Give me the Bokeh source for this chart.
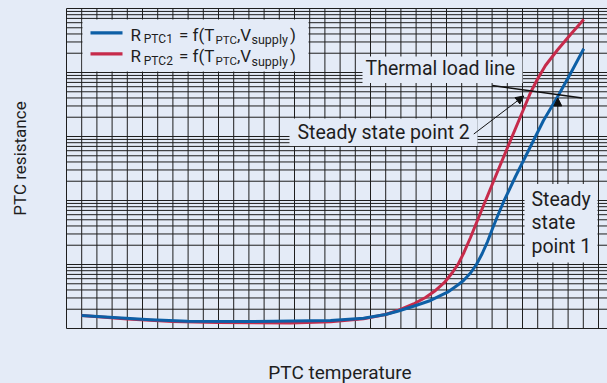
import math
from bokeh.plotting import figure
from bokeh.models import Label, BoxAnnotation, Arrow, NormalHead, Range1d
from bokeh.embed import file_html
from bokeh.resources import INLINE

# ---- data: temperature (grid units) and log10 of resistance (decades) ----
temp_rptc1 = [0.99, 3.36, 5.53, 7.96, 12.11, 17.37, 19.54, 20.99, 21.78, 22.83, 23.95,
              25.07, 25.79, 26.12, 26.58, 26.97, 27.35, 27.70, 28.03, 28.36, 28.75,
              29.54, 30.33, 31.38, 32.30, 33.16, 34.03]
logres_rptc1 = [0.203, 0.167, 0.136, 0.114, 0.109, 0.125, 0.161, 0.219, 0.270, 0.348,
                0.438, 0.567, 0.688, 0.750, 0.867, 1.000, 1.172, 1.359, 1.563, 1.758,
                1.977, 2.375, 2.750, 3.250, 3.617, 3.984, 4.370]

temp_rptc2 = [0.99, 4.01, 6.97, 9.93, 14.74, 17.37, 19.54, 20.99, 21.78, 22.83, 23.62,
              24.28, 24.87, 25.39, 25.79, 26.15, 26.58, 27.30, 28.55, 29.76, 30.53,
              30.99, 31.51, 32.30, 33.16, 34.03]
logres_rptc2 = [0.203, 0.148, 0.109, 0.094, 0.086, 0.105, 0.152, 0.219, 0.281, 0.383,
                0.484, 0.594, 0.719, 0.875, 1.016, 1.188, 1.422, 1.844, 2.563, 3.250,
                3.688, 3.898, 4.109, 4.352, 4.594, 4.828]

load_temp = [28.01, 33.93]
logres_load = [3.797, 3.602]

temp_grid = list(range(0, 36))       # vertical grid lines
decades = [0, 1, 2, 3, 4]            # log grid decades
mantissas = [1, 2, 3, 4, 5, 6, 7, 8, 9]
res_max = 1e5

legend_subs = ["PTC1", "PTC2"]

res_rptc1 = [10 ** v for v in logres_rptc1]
res_rptc2 = [10 ** v for v in logres_rptc2]
load_res = [10 ** v for v in logres_load]

# ---- styling / layout ----
BG = "#e4ebf7"
GRID = "#1e1e1e"
TXT = "#1e1e1e"
BLUE = "#0d5fa6"
RED = "#c62b4b"
FONT = "Roboto"
BASE_FIX = 0.31            # baseline correction, in em

W, H = 607, 383
OX, OY = 66, 328          # page pixel of (temp 0, resistance 1)
PX_T = 15.2               # pixels per temperature unit
PX_DEC = 64               # pixels per decade

x_lo, x_hi = -OX / PX_T, (W - OX) / PX_T
y_lo, y_hi = 10 ** (-(H - OY) / PX_DEC), 10 ** (OY / PX_DEC)


def sx(px):
    return px


def sy(py):
    return H - py


p = figure(width=W, height=H, x_range=Range1d(x_lo, x_hi), y_range=Range1d(y_lo, y_hi),
           y_axis_type="log", x_axis_location=None, y_axis_location=None,
           output_backend="svg", toolbar_location=None,
           min_border_left=0, min_border_right=0, min_border_top=0, min_border_bottom=0,
           background_fill_color=BG, border_fill_color=BG, outline_line_color=None)
p.xgrid.visible = False
p.ygrid.visible = False

# grid lines
vx = [float(t) for t in temp_grid]
p.segment(x0=vx, y0=[1.0] * len(vx), x1=vx, y1=[res_max] * len(vx),
          line_color=GRID, line_width=1)
hy = [m * 10 ** d for d in decades for m in mantissas] + [res_max]
p.segment(x0=[0.0] * len(hy), y0=hy, x1=[x_hi] * len(hy), y1=hy,
          line_color=GRID, line_width=1)

# curves
p.line(temp_rptc2, res_rptc2, line_color=RED, line_width=3, line_join="round")
p.line(temp_rptc1, res_rptc1, line_color=BLUE, line_width=3, line_join="round")
p.line(load_temp, load_res, line_color="#111111", line_width=1.5)


def box(l, r, t, b, color=BG):
    p.add_layout(BoxAnnotation(left=sx(l), right=sx(r), top=sy(t), bottom=sy(b),
                               left_units="screen", right_units="screen",
                               top_units="screen", bottom_units="screen",
                               fill_color=color, fill_alpha=1, line_color=None))


def lab(px, py, text, size, angle=0.0, align="left"):
    fix = BASE_FIX * size
    if angle:
        px -= fix
    else:
        py -= fix
    p.add_layout(Label(x=sx(px), y=sy(py), x_units="screen", y_units="screen",
                       text=text, text_font=FONT, text_font_size=f"{size}px",
                       text_color=TXT, text_baseline="alphabetic", text_align=align,
                       angle=angle))


# annotation backgrounds
box(82, 308, 19, 71)        # legend
box(362, 522, 56, 82.5)     # thermal load line
box(289, 477, 118, 145.5)   # steady state point 2
box(524, 597, 183.5, 262)   # steady state point 1

# legend swatches
box(90, 122, 30.8, 33.9, BLUE)
box(90, 122, 51.8, 54.9, RED)

# legend texts
for i, sub in enumerate(legend_subs):
    base = 39.3 + 21.7 * i
    lab(130, base, "R", 17)
    lab(143.3, base + 3.4, sub, 12)
    lab(178.5, base, "= f(T", 17)
    lab(215, base + 3.4, "PTC", 11.5)
    lab(236.5, base, ",V", 17)
    lab(251, base + 3.4, "supply", 12.5)
    lab(289.5, base, ")", 17)

lab(365, 74, "Thermal load line", 19.5)
lab(297, 138.3, "Steady state point 2", 19.5)
lab(531, 205, "Steady", 19.5)
lab(531, 228.5, "state", 19.5)
lab(531, 252, "point 1", 19.5)

lab(339.5, 378, "PTC temperature", 19, align="center")
lab(25, 158, "PTC resistance", 17, angle=math.pi / 2, align="center")

head = dict(size=8, fill_color="#111111", line_color="#111111")
p.add_layout(Arrow(end=NormalHead(**head), x_start=sx(473.3), y_start=sy(133.5),
                   x_end=sx(523.3), y_end=sy(95.5), start_units="screen", end_units="screen",
                   line_color="#111111", line_width=1))
p.add_layout(Arrow(end=NormalHead(**head), x_start=sx(557.3), y_start=sy(183.5),
                   x_end=sx(557.3), y_end=sy(97.5), start_units="screen", end_units="screen",
                   line_color="#111111", line_width=1))

html = file_html(p, INLINE)
html = html.replace("</head>", f"<style>html,body{{background:{BG};margin:0;}}</style></head>", 1)
open("out.html", "w").write(html)
